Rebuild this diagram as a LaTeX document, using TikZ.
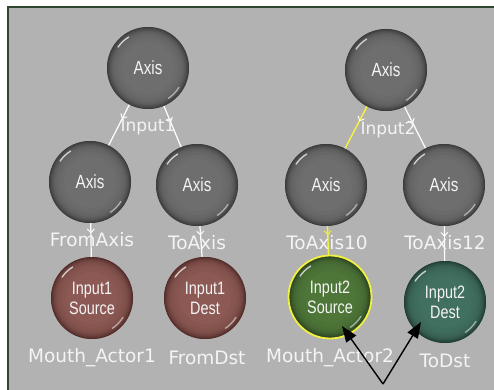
\documentclass[tikz,border=0pt]{standalone}
\usepackage{fontspec}
\setmainfont{DejaVu Sans}
\newfontfamily\sphfont[FakeStretch=0.8]{Liberation Sans}
\usetikzlibrary{arrows.meta,decorations.markings}
\definecolor{panelgray}{HTML}{B2B2B2}
\definecolor{panelborder}{HTML}{2E452E}
\definecolor{lbl}{HTML}{F4F4F4}
\definecolor{hiyellow}{HTML}{F2F040}
\definecolor{grayA}{HTML}{6E6E6E}\definecolor{grayB}{HTML}{383838}
\definecolor{marA}{HTML}{8C5954}\definecolor{marB}{HTML}{4E2A27}
\definecolor{grnA}{HTML}{4E7639}\definecolor{grnB}{HTML}{263D1D}
\definecolor{tealA}{HTML}{417060}\definecolor{tealB}{HTML}{203A30}
\tikzset{
  sphere/.style 2 args={circle, minimum size=82pt, inner sep=0pt, fill=#1,
    text=lbl, align=center, font=\sphfont\fontsize{18}{20}\selectfont,
    path picture={
      \foreach \r/\m in {42/0,40.5/18,39.5/34,38.5/48,37.5/60,36.5/70,35/79,33/87,30/94,26/100}
        \fill[#1!\m!#2] (path picture bounding box.center) circle[radius=\r pt];
      \draw[white, opacity=.7, line width=1.4pt, line cap=round]
        (path picture bounding box.center) ++(145:36.5) arc[start angle=145, end angle=122, radius=36.5];
      \draw[white, opacity=.5, line width=1.4pt, line cap=round]
        (path picture bounding box.center) ++(-32:36.5) arc[start angle=-32, end angle=-56, radius=36.5];
    }},
  graysph/.style={sphere={grayA}{grayB}, font=\sphfont\fontsize{19}{21}\selectfont},
  maroonsph/.style={sphere={marA}{marB}},
  greensph/.style={sphere={grnA}{grnB}},
  tealsph/.style={sphere={tealA}{tealB}},
  lbltext/.style={text=lbl, font=\fontsize{18.5}{20}\selectfont, inner sep=0pt},
  midlbl/.style={lbltext, font=\fontsize{17}{19}\selectfont},
  link/.style={draw=white, line width=1.2pt, postaction={decorate},
    decoration={markings, mark=at position #1 with {\arrow[white, line width=1pt]{Straight Barb[length=3.5pt,width=7pt]}}}},
  pointer/.style={draw=black, line width=1.4pt, -{Triangle[length=16pt,width=12pt]}}
}
\begin{document}
\begin{tikzpicture}[x=1pt,y=1pt]
\useasboundingbox (0,0) rectangle (494,389);
\fill[white] (0,0) rectangle (494,389);
\draw[fill=panelgray, draw=panelborder, line width=2pt] (8,-5) rectangle (500,382);

% spheres
\node[graysph] (A1) at (148,321) {Axis};
\node[graysph] (A2) at (386,319) {Axis};
\node[graysph] (B1) at (90,207) {Axis};
\node[graysph] (B2) at (197,204) {Axis};
\node[graysph] (B3) at (326,204) {Axis};
\node[graysph] (B4) at (444,204) {Axis};
\node[maroonsph] (C1) at (92,91) {Input1\\Source};
\node[maroonsph] (C2) at (205,91) {Input1\\Dest};
\node[greensph] (C3) at (330,92) {Input2\\Source};
\node[tealsph] (C4) at (445,87) {Input2\\Dest};
\draw[hiyellow, line width=1.8pt] (C3.center) circle[radius=41.5pt];

% connectors
\path[link=0.35] (A1) -- (B1);
\path[link=0.4] (A1) -- (B2);
\path[link=0.35, draw=hiyellow, line width=1.5pt] (A2) -- (B3);
\path[link=0.4] (A2) -- (B4);
\path[link=0.3] (B1) -- (C1);
\path[link=0.3] (B2) -- (C2);
\path[draw=hiyellow, line width=1.4pt, postaction={decorate},
  decoration={markings, mark=at position 0.3 with {\arrow[hiyellow, line width=1pt]{Straight Barb[length=3.5pt,width=7pt]}}}] (B3) -- (C3);
\path[link=0.3] (B4) -- (C4);

% labels
\node[midlbl] (L1) at (148,262) {Input1};
\node[midlbl] (L2) at (388,259) {Input2};
\node[lbltext] (L3) at (92,149) {FromAxis};
\node[lbltext] (L4) at (197,146) {ToAxis};
\node[lbltext] (L5) at (327,146) {ToAxis10};
\node[lbltext] (L6) at (445,146) {ToAxis12};
\node[lbltext] (L7) at (92,31) {Mouth\_Actor1};
\node[lbltext] (L8) at (207,31) {FromDst};
\node[lbltext] (L9) at (330,31) {Mouth\_Actor2};
\node[lbltext] (L10) at (445,28) {ToDst};

% black pointers
\coordinate (apex) at (383,5);
\coordinate (tip1) at (342,63);
\coordinate (tip2) at (421,67);
\draw[pointer] (apex) -- (tip1);
\draw[pointer] (apex) -- (tip2);
\end{tikzpicture}
\end{document}
